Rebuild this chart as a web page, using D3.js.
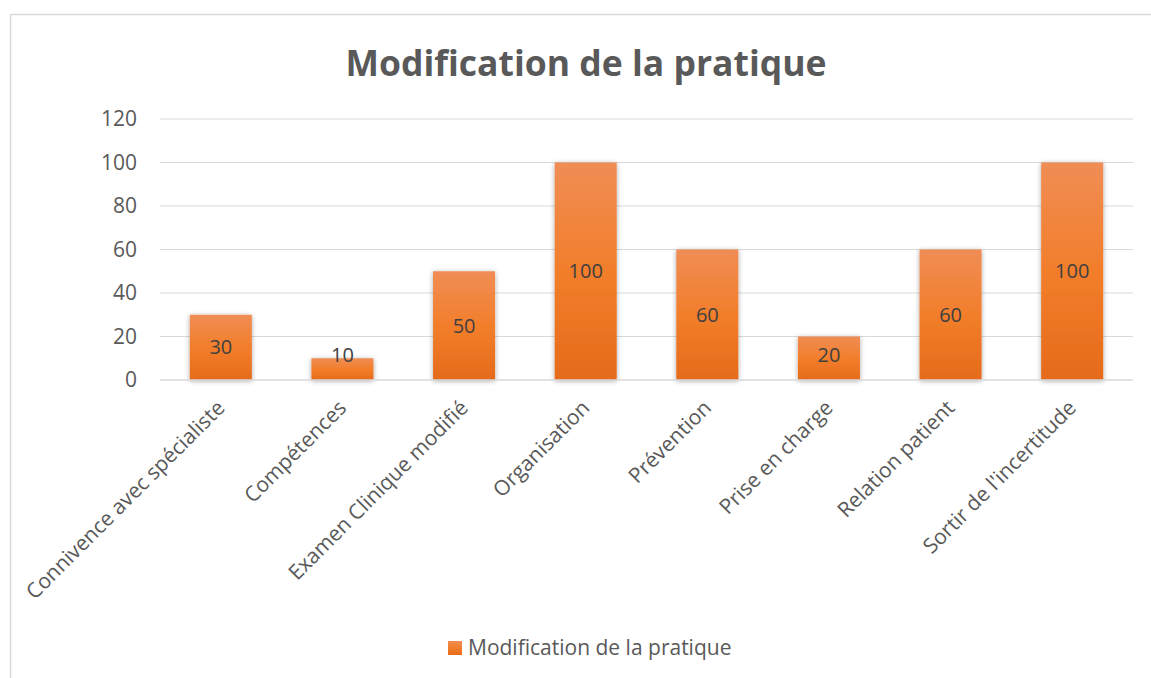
<!DOCTYPE html>
<html>
<head>
<meta charset="utf-8">
<script src="https://cdn.jsdelivr.net/npm/d3@7"></script>
<style>
  body { margin: 0; background: #fff; }
  svg text { font-family: 'Open Sans', sans-serif; }
</style>
</head>
<body>
<div id="chart"></div>
<script>
var categories = ['Connivence avec spécialiste', 'Compétences', 'Examen Clinique modifié',
    'Organisation', 'Prévention', 'Prise en charge', 'Relation patient', "Sortir de l'incertitude"];
var values = [30, 10, 50, 100, 60, 20, 60, 100];
var yTicks = [0, 20, 40, 60, 80, 100, 120];
var title = 'Modification de la pratique';
var seriesName = 'Modification de la pratique';

var width = 1151, height = 678;
var plot = {left: 160, right: 1133, top: 119, bottom: 380};
var grey = '#595959';

var svg = d3.select('#chart').append('svg')
    .attr('width', width)
    .attr('height', height);

var defs = svg.append('defs');
var grad = defs.append('linearGradient')
    .attr('id', 'barGrad')
    .attr('x1', 0).attr('y1', 0).attr('x2', 0).attr('y2', 1);
grad.append('stop').attr('offset', '0%').attr('stop-color', '#f08d55');
grad.append('stop').attr('offset', '50%').attr('stop-color', '#f27e2b');
grad.append('stop').attr('offset', '100%').attr('stop-color', '#e56b1a');

var shadow = defs.append('filter')
    .attr('id', 'shadow')
    .attr('x', '-30%').attr('y', '-30%').attr('width', '160%').attr('height', '160%');
shadow.append('feDropShadow')
    .attr('dx', 0).attr('dy', 1)
    .attr('stdDeviation', 2.5)
    .attr('flood-color', '#000')
    .attr('flood-opacity', 0.35);

// chart frame
svg.append('rect')
    .attr('x', 10.5).attr('y', 14.5)
    .attr('width', width + 20).attr('height', height)
    .attr('fill', 'none')
    .attr('stroke', '#d9d9d9')
    .attr('stroke-width', 1.5);

// title
svg.append('text')
    .attr('x', 586).attr('y', 76)
    .attr('text-anchor', 'middle')
    .attr('fill', grey)
    .attr('font-size', '35.5px')
    .attr('font-weight', 'bold')
    .text(title);

var x = d3.scaleBand()
    .domain(categories)
    .range([plot.left, plot.right])
    .paddingInner(0.49)
    .paddingOuter(0.245);

var y = d3.scaleLinear()
    .domain([0, 120])
    .range([plot.bottom, plot.top]);

// gridlines
svg.append('g')
    .selectAll('line')
    .data(yTicks.filter(function(d) { return d > 0; }))
    .join('line')
    .attr('x1', plot.left).attr('x2', plot.right)
    .attr('y1', function(d) { return y(d); })
    .attr('y2', function(d) { return y(d); })
    .attr('stroke', '#d9d9d9')
    .attr('stroke-width', 1.2);

// y axis labels
var yAxis = svg.append('g')
    .attr('transform', 'translate(' + (plot.left - 23) + ',0)')
    .call(d3.axisLeft(y).tickValues(yTicks).tickSize(0).tickPadding(0));
yAxis.select('.domain').remove();
yAxis.selectAll('text')
    .attr('fill', grey)
    .attr('font-size', '21px')
    .attr('font-family', "'Open Sans', sans-serif");

// bars
svg.append('g')
    .selectAll('rect')
    .data(values)
    .join('rect')
    .attr('x', function(d, i) { return x(categories[i]); })
    .attr('y', function(d) { return y(d); })
    .attr('width', x.bandwidth())
    .attr('height', function(d) { return y(0) - y(d); })
    .attr('fill', 'url(#barGrad)')
    .attr('filter', 'url(#shadow)');

// x axis line
svg.append('line')
    .attr('x1', plot.left).attr('x2', plot.right)
    .attr('y1', y(0)).attr('y2', y(0))
    .attr('stroke', '#d9d9d9')
    .attr('stroke-width', 1.5);

// data labels
svg.append('g')
    .selectAll('text')
    .data(values)
    .join('text')
    .attr('x', function(d, i) { return x(categories[i]) + x.bandwidth() / 2; })
    .attr('y', function(d) { return Math.min((y(d) + y(0)) / 2, y(0) - 25); })
    .attr('dy', '0.35em')
    .attr('text-anchor', 'middle')
    .attr('fill', '#404040')
    .attr('font-size', '20px')
    .text(function(d) { return d; });

// x axis labels
var xAxis = svg.append('g')
    .attr('transform', 'translate(0,' + (plot.bottom + 24) + ')')
    .call(d3.axisBottom(x).tickSize(0).tickPadding(0));
xAxis.select('.domain').remove();
xAxis.selectAll('text')
    .attr('fill', grey)
    .attr('font-size', '21px')
    .attr('font-family', "'Open Sans', sans-serif")
    .attr('text-anchor', 'end')
    .attr('dy', '0.35em')
    .attr('transform', 'rotate(-45)');

// legend
var legend = svg.append('g').attr('transform', 'translate(448,641)');
legend.append('rect')
    .attr('width', 14).attr('height', 14)
    .attr('fill', 'url(#barGrad)');
legend.append('text')
    .attr('x', 20).attr('y', 14)
    .attr('fill', grey)
    .attr('font-size', '21px')
    .text(seriesName);
</script>
</body>
</html>
